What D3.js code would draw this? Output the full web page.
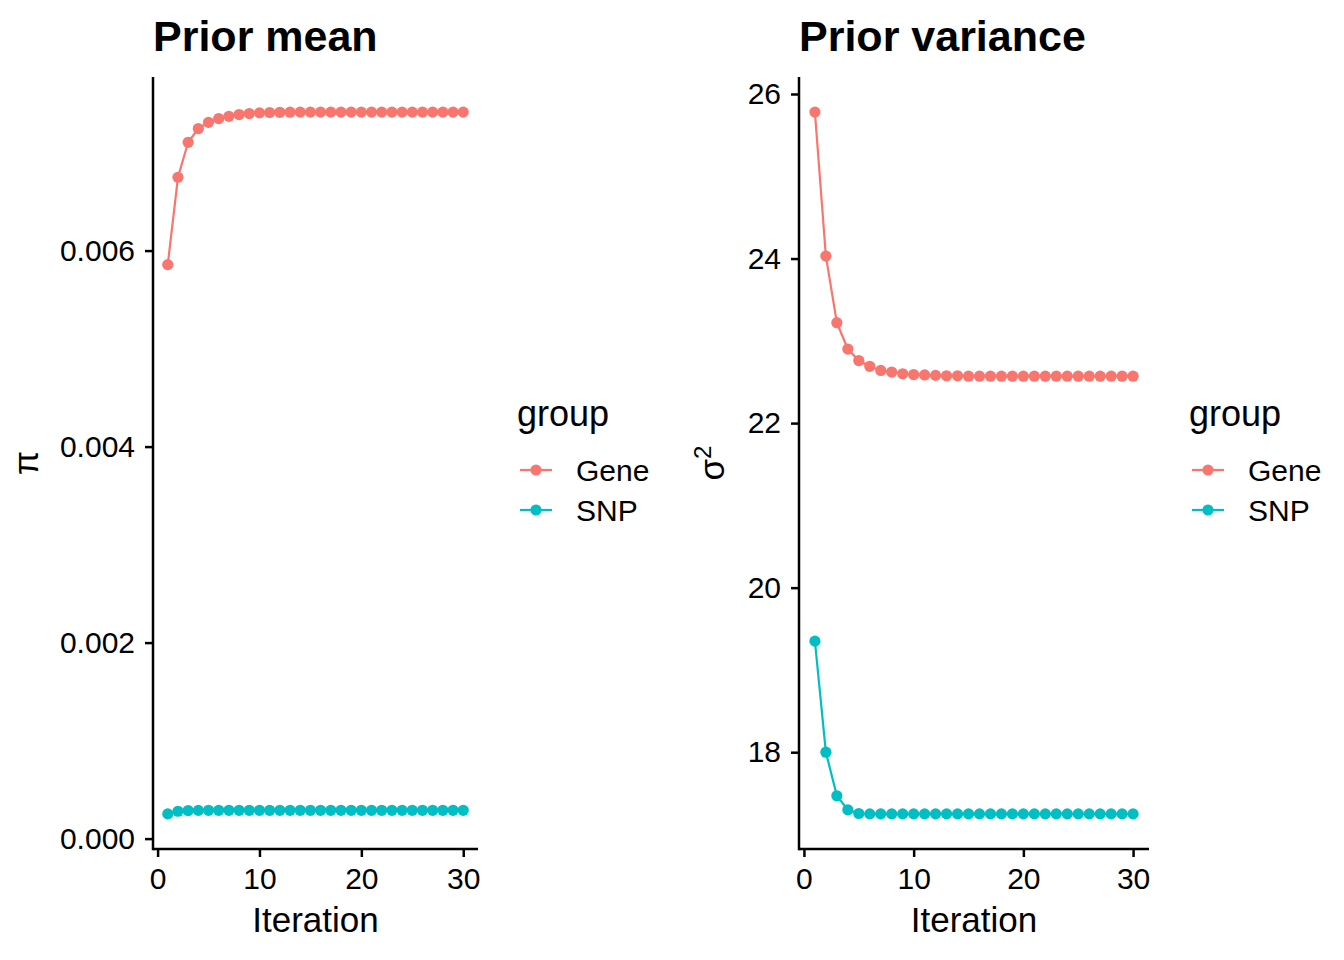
<!DOCTYPE html>
<html>
<head>
<meta charset="utf-8">
<script src="https://cdn.jsdelivr.net/npm/d3@7"></script>
<style>
	body { margin: 0; background: #fff; }
	svg { display: block; font-family: "Liberation Sans", Arial, sans-serif; }
</style>
</head>
<body>
<div id="chart"></div>
<script>
	// data
	var iterations = d3.range(1, 31);
	var groups = ["Gene", "SNP"];
	var colors = ["#F8766D", "#00BFC4"];

	var piGene = [0.005857, 0.006748, 0.007105, 0.007245, 0.007309, 0.007347, 0.007370, 0.007388, 0.007398, 0.007405,
		0.007409, 0.007411, 0.007412, 0.007413, 0.007413, 0.007413, 0.007413, 0.007413, 0.007413, 0.007413,
		0.007413, 0.007413, 0.007413, 0.007413, 0.007413, 0.007413, 0.007413, 0.007413, 0.007413, 0.007413];
	var piSNP = [0.000252, 0.000279, 0.000286, 0.000288, 0.000289, 0.000289, 0.000289, 0.000289, 0.000289, 0.000289,
		0.000289, 0.000289, 0.000289, 0.000289, 0.000289, 0.000289, 0.000289, 0.000289, 0.000289, 0.000289,
		0.000289, 0.000289, 0.000289, 0.000289, 0.000289, 0.000289, 0.000289, 0.000289, 0.000289, 0.000289];
	var sigGene = [25.78, 24.03, 23.22, 22.90, 22.76, 22.69, 22.64, 22.62, 22.60, 22.59,
		22.585, 22.58, 22.575, 22.575, 22.57, 22.57, 22.57, 22.57, 22.57, 22.57,
		22.57, 22.57, 22.57, 22.57, 22.57, 22.57, 22.57, 22.57, 22.57, 22.57];
	var sigSNP = [19.35, 18.00, 17.47, 17.30, 17.255, 17.25, 17.25, 17.25, 17.25, 17.25,
		17.25, 17.25, 17.25, 17.25, 17.25, 17.25, 17.25, 17.25, 17.25, 17.25,
		17.25, 17.25, 17.25, 17.25, 17.25, 17.25, 17.25, 17.25, 17.25, 17.25];

	var xTicks = [0, 10, 20, 30];
	var piTicks = [0, 0.002, 0.004, 0.006];
	var sigTicks = [18, 20, 22, 24, 26];

	var svg = d3.select("#chart").append("svg")
		.attr("width", 1344)
		.attr("height", 960);

	function panel(opt) {
		var left = opt.left, right = opt.right, top = 77, bottom = 849;
		var g = svg.append("g");

		// ggplot style 5% expansion
		var ext = [1, 30];
		var pad = (ext[1] - ext[0]) * 0.05;
		var x = d3.scaleLinear().domain([ext[0] - pad, ext[1] + pad]).range([left, right]);

		var all = opt.series[0].concat(opt.series[1]);
		var lo = d3.min(all), hi = d3.max(all);
		var ypad = (hi - lo) * 0.05;
		var y = d3.scaleLinear().domain([lo - ypad, hi + ypad]).range([bottom, top]);

		// lines + points
		opt.series.forEach(function(vals, k) {
			var line = d3.line()
				.x(function(d, i) { return x(iterations[i]); })
				.y(function(d) { return y(d); });
			g.append("path")
				.datum(vals)
				.attr("d", line)
				.attr("fill", "none")
				.attr("stroke", colors[k])
				.attr("stroke-width", 2.2);
			g.selectAll(".pt" + k)
				.data(vals)
				.enter()
				.append("circle")
				.attr("cx", function(d, i) { return x(iterations[i]); })
				.attr("cy", function(d) { return y(d); })
				.attr("r", 5.6)
				.attr("fill", colors[k]);
		});

		// axes
		var xa = g.append("g")
			.attr("transform", "translate(0," + bottom + ")")
			.call(d3.axisBottom(x).tickValues(xTicks).tickSize(8).tickPadding(11).tickSizeOuter(0));
		var ya = g.append("g")
			.attr("transform", "translate(" + left + ",0)")
			.call(d3.axisLeft(y).tickValues(opt.ticks).tickFormat(opt.fmt).tickSize(8).tickPadding(10).tickSizeOuter(0));
		[xa, ya].forEach(function(a) {
			a.select(".domain").remove();
			a.selectAll("line").attr("stroke", "#000").attr("stroke-width", 2.5);
			a.selectAll("text").attr("fill", "#000").style("font-size", "30px");
		});
		g.append("line")
			.attr("x1", left).attr("x2", right)
			.attr("y1", bottom).attr("y2", bottom)
			.attr("stroke", "#000").attr("stroke-width", 2.5);
		g.append("line")
			.attr("x1", left).attr("x2", left)
			.attr("y1", top).attr("y2", bottom + 1.25)
			.attr("stroke", "#000").attr("stroke-width", 2.5);

		// title
		g.append("text")
			.attr("x", left)
			.attr("y", 51)
			.style("font-size", "43px")
			.style("font-weight", "bold")
			.text(opt.title);

		// x title
		g.append("text")
			.attr("x", (left + right) / 2)
			.attr("y", 932)
			.attr("text-anchor", "middle")
			.style("font-size", "35px")
			.text("Iteration");

		// y title
		var yt = g.append("text")
			.attr("transform", "translate(" + opt.ylabX + "," + (top + bottom) / 2 + ") rotate(-90)")
			.attr("text-anchor", "middle")
			.style("font-size", "35px");
		yt.append("tspan").text(opt.ylab);
		if (opt.sup) {
			yt.append("tspan")
				.attr("dy", "-0.55em")
				.style("font-size", "24px")
				.text(opt.sup);
		}

		// legend
		var lx = opt.legendX;
		g.append("text")
			.attr("x", lx)
			.attr("y", 426)
			.style("font-size", "36px")
			.text("group");
		groups.forEach(function(name, k) {
			var ly = 470 + k * 40;
			g.append("line")
				.attr("x1", lx + 3).attr("x2", lx + 35)
				.attr("y1", ly).attr("y2", ly)
				.attr("stroke", colors[k]).attr("stroke-width", 2.2);
			g.append("circle")
				.attr("cx", lx + 19).attr("cy", ly).attr("r", 5.6)
				.attr("fill", colors[k]);
			g.append("text")
				.attr("x", lx + 59)
				.attr("y", ly + 11)
				.style("font-size", "30px")
				.text(name);
		});
	}

	panel({
		left: 153, right: 478,
		series: [piGene, piSNP],
		ticks: piTicks,
		fmt: d3.format(".3f"),
		title: "Prior mean",
		ylab: "\u03c0", ylabX: 38,
		legendX: 517
	});

	panel({
		left: 799, right: 1149,
		series: [sigGene, sigSNP],
		ticks: sigTicks,
		fmt: d3.format("d"),
		title: "Prior variance",
		ylab: "\u03c3", sup: "2", ylabX: 724,
		legendX: 1189
	});
</script>
</body>
</html>
